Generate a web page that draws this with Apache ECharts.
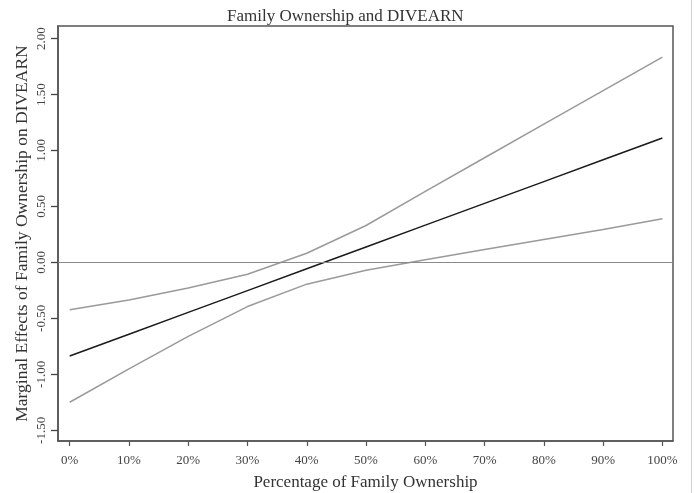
<!DOCTYPE html>
<html>
<head>
<meta charset="utf-8">
<script src="https://cdn.jsdelivr.net/npm/echarts@6/dist/echarts.min.js"></script>
<style>
html,body{margin:0;padding:0;background:#fff;}
#chart{width:695px;height:493px;}
</style>
</head>
<body>
<div id="chart"></div>
<script>
// Data
const ownershipPct = [0, 10, 20, 30, 40, 50, 60, 70, 80, 90, 100];
const marginalEffect = [-0.836, -0.641, -0.446, -0.252, -0.057, 0.138, 0.333, 0.528, 0.722, 0.917, 1.112];
const upperCI = [-0.423, -0.335, -0.228, -0.105, 0.082, 0.33, 0.635, 0.935, 1.235, 1.535, 1.834];
const lowerCI = [-1.249, -0.951, -0.661, -0.394, -0.194, -0.07, 0.025, 0.115, 0.205, 0.295, 0.390];
const xTicks = [0, 10, 20, 30, 40, 50, 60, 70, 80, 90, 100];
const yTicks = [-1.5, -1.0, -0.5, 0, 0.5, 1.0, 1.5, 2.0];

const FONT = '"Liberation Serif", "DejaVu Serif", serif';
const pairs = (ys) => ownershipPct.map((x, i) => [x, ys[i]]);

const chart = echarts.init(document.getElementById('chart'), null, {renderer: 'canvas'});
chart.setOption({
  backgroundColor: '#fff',
  animation: false,
  title: {
    text: 'Family Ownership and DIVEARN',
    left: 222,
    top: 3,
    textStyle: {fontFamily: FONT, fontSize: 17, fontWeight: 'normal', color: '#333'}
  },
  grid: {
    left: 58, right: 22, top: 26, bottom: 52,
    containLabel: false,
    outerBoundsMode: 'none',
    show: true, borderColor: '#555', borderWidth: 1.5, backgroundColor: '#fff'
  },
  xAxis: {
    type: 'value',
    min: -1.97, max: 101.79,
    name: 'Percentage of Family Ownership',
    nameLocation: 'middle',
    nameGap: 33,
    nameMoveOverlap: false,
    nameTextStyle: {fontFamily: FONT, fontSize: 17, color: '#333'},
    axisLine: {show: true, onZero: false, lineStyle: {color: '#555', width: 1.5}},
    axisTick: {show: true, inside: false, length: 5, customValues: xTicks, lineStyle: {color: '#555', width: 1.2}},
    axisLabel: {customValues: xTicks, margin: 13, fontFamily: FONT, fontSize: 13, color: '#444',
      formatter: v => Math.round(v) + '%'},
    splitLine: {show: false}
  },
  yAxis: {
    type: 'value',
    min: -1.595, max: 2.112,
    name: 'Marginal Effects of Family Ownership on DIVEARN',
    nameLocation: 'middle',
    nameGap: 27,
    nameMoveOverlap: false,
    nameTextStyle: {fontFamily: FONT, fontSize: 17.5, color: '#333'},
    axisLine: {show: true, onZero: false, lineStyle: {color: '#555', width: 1.5}},
    axisTick: {show: true, inside: false, length: 7, customValues: yTicks, lineStyle: {color: '#444', width: 1.3}},
    axisLabel: {customValues: yTicks, rotate: 90, margin: 10, fontFamily: FONT, fontSize: 13, color: '#444',
      formatter: v => v.toFixed(2)},
    splitLine: {show: false}
  },
  series: [
    {
      type: 'line', data: pairs(upperCI), symbol: 'none',
      lineStyle: {color: '#9a9a9a', width: 1.5}, z: 3
    },
    {
      type: 'line', data: pairs(lowerCI), symbol: 'none',
      lineStyle: {color: '#9a9a9a', width: 1.5}, z: 3
    },
    {
      type: 'line', data: pairs(marginalEffect), symbol: 'none',
      lineStyle: {color: '#1a1a1a', width: 1.5}, z: 4,
      markLine: {
        silent: true, symbol: 'none', label: {show: false},
        lineStyle: {color: '#8a8a8a', width: 1.2, type: 'solid'},
        data: [{yAxis: 0}]
      }
    }
  ],
  graphic: [
    {type: 'line', shape: {x1: 691.5, y1: 0, x2: 691.5, y2: 493}, style: {stroke: '#d0d0d0', lineWidth: 1}}
  ]
});
</script>
</body>
</html>
